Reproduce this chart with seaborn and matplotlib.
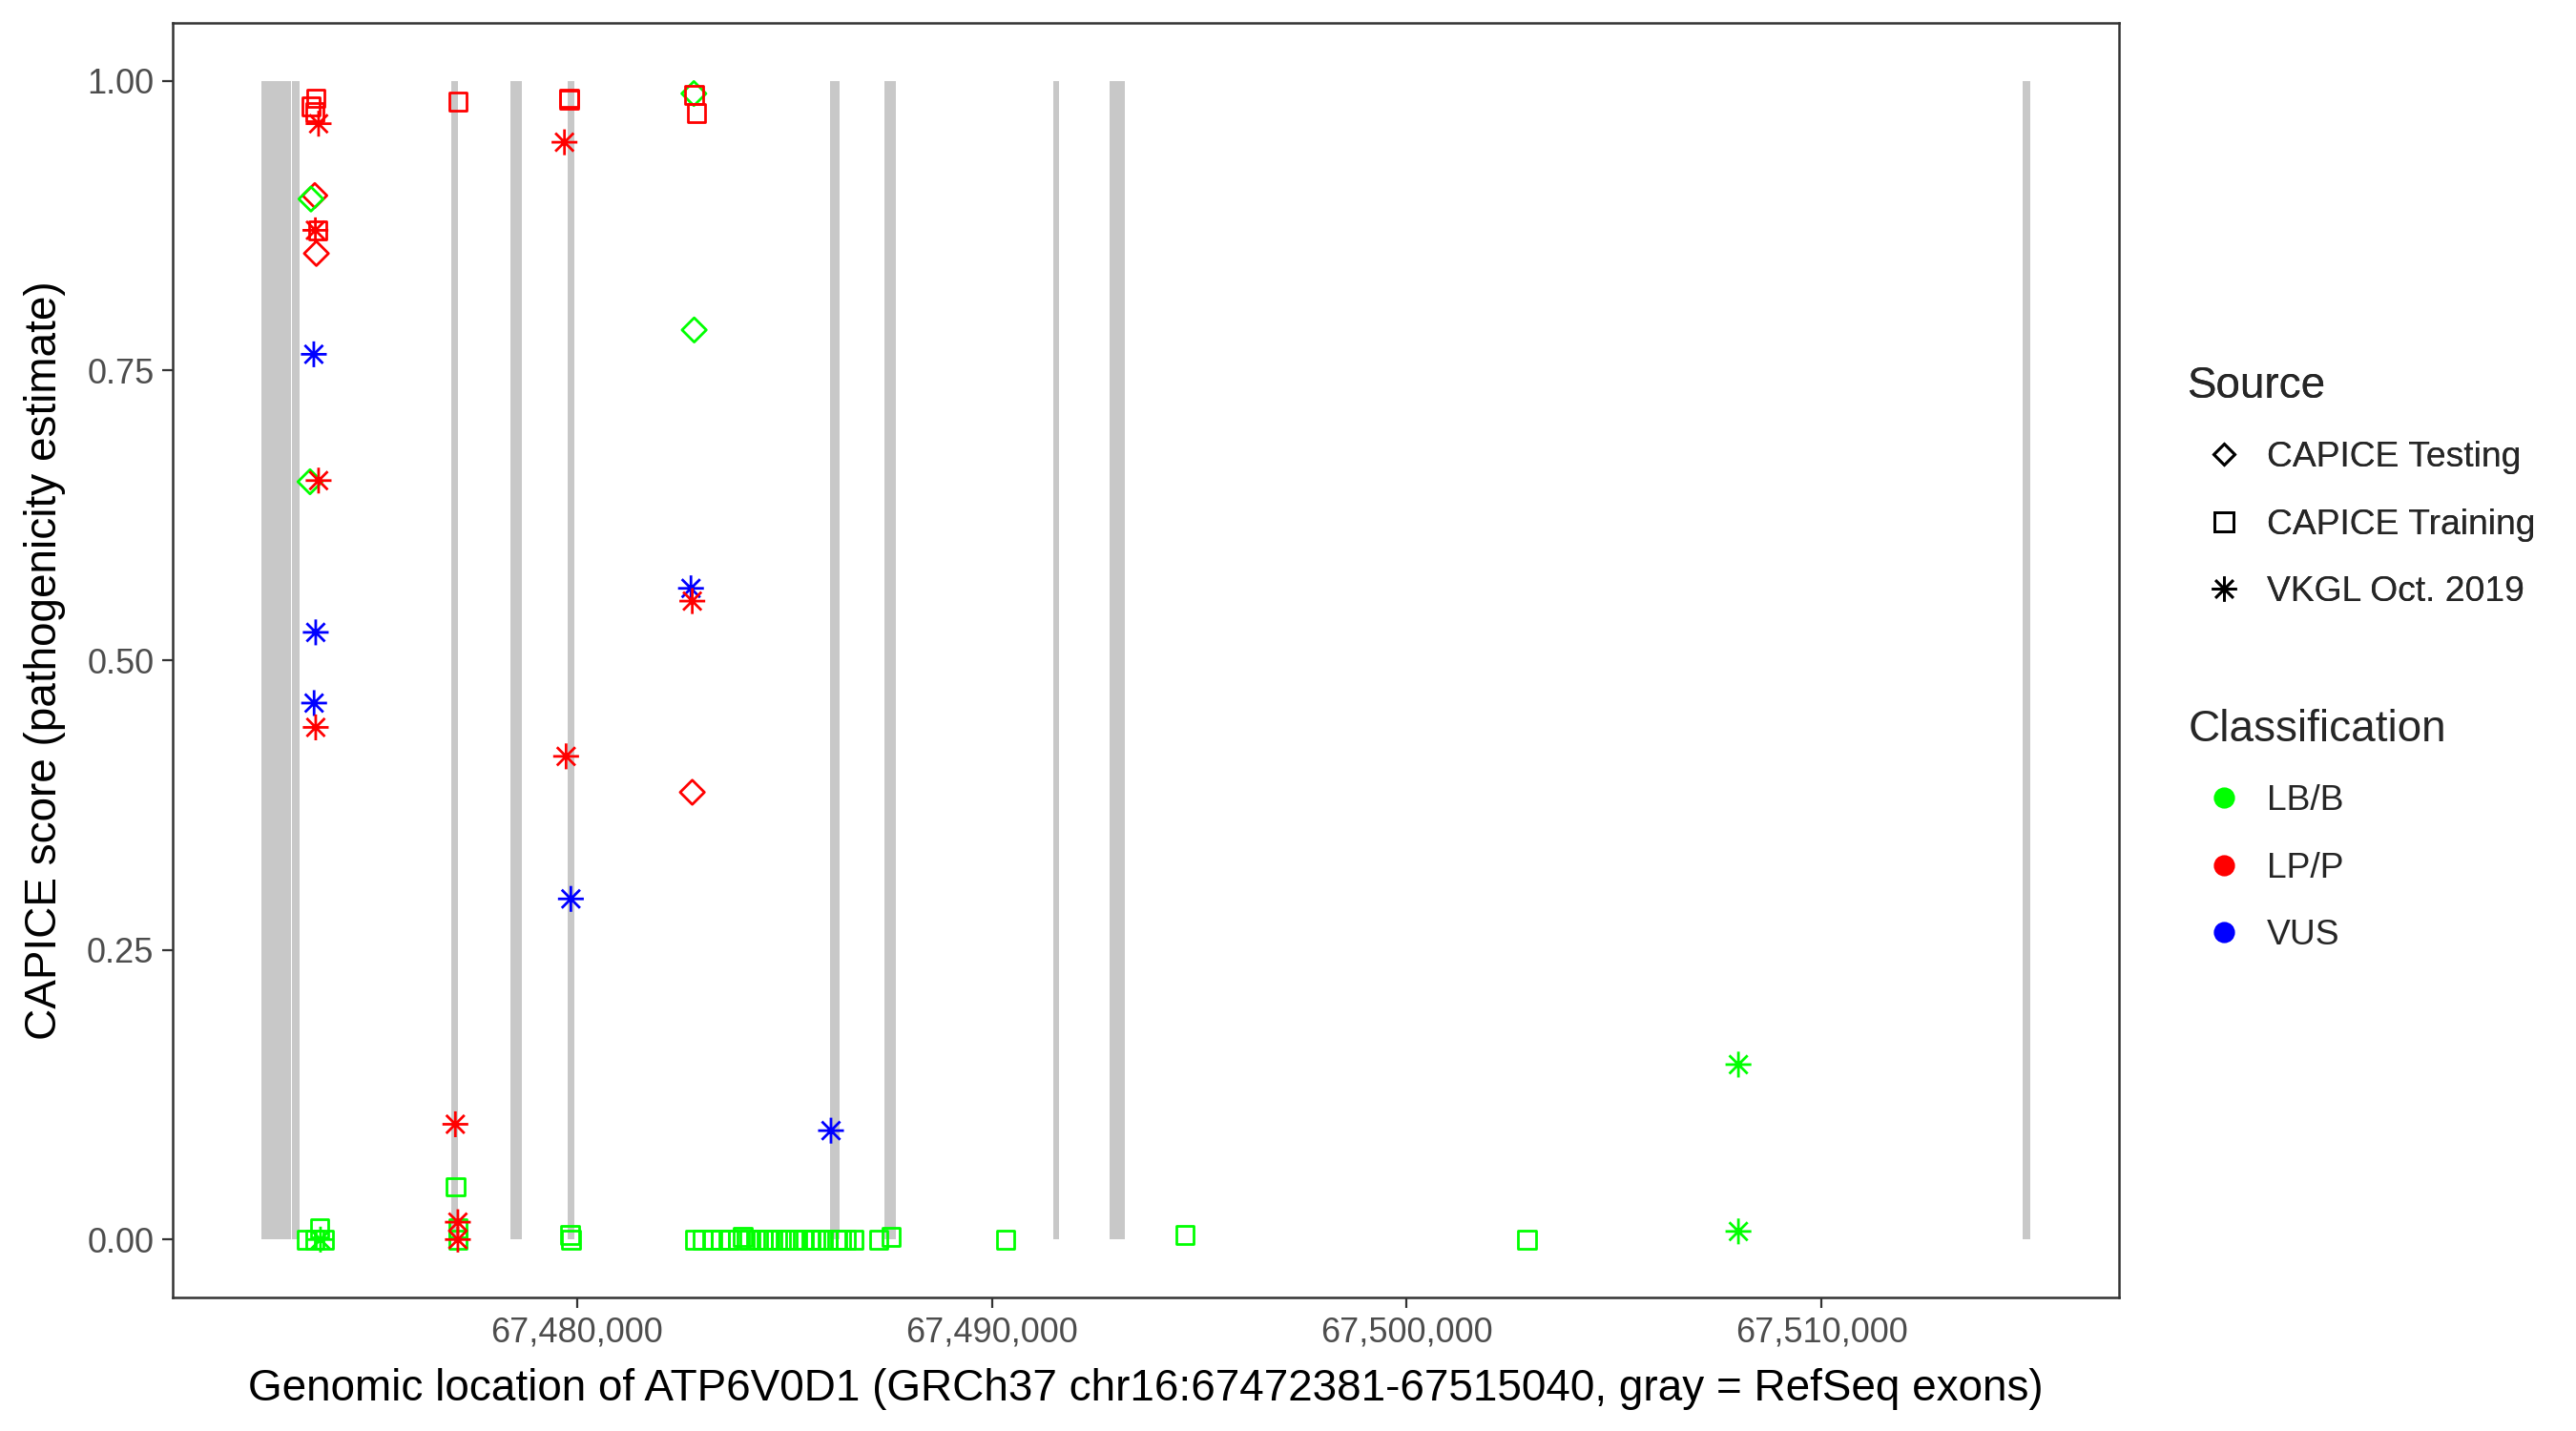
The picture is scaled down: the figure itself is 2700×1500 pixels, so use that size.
import matplotlib
matplotlib.use("Agg")
import matplotlib.pyplot as plt
from matplotlib.path import Path
from matplotlib.lines import Line2D
from matplotlib.ticker import FuncFormatter
import numpy as np
import pandas as pd
import seaborn as sns

# gene + exon coordinates (GRCh37 chr16)
gene_start = 67472381
gene_end = 67515040
exon_starts = [67472381, 67473124, 67476965, 67478391, 67479772, 67486098,
               67487409, 67491481, 67492838, 67514853]
exon_ends = [67473100, 67473308, 67477126, 67478668, 67479933, 67486328,
             67487685, 67491619, 67493206, 67515040]

# variants
pos = [67473699, 67473584, 67473676, 67473768, 67473676, 67473584, 67473691,
       67473745, 67473714, 67473653, 67473561, 67473768, 67473699, 67473660,
       67473699, 67473791, 67473469, 67473676, 67473906, 67473814,
       67477126, 67477065, 67477073, 67477126, 67477126, 67477126, 67477126,
       67479811, 67479800, 67479696, 67479735, 67479850, 67479834, 67479850,
       67482815, 67482815, 67482878, 67482823, 67482745, 67482777, 67482777,
       67486121,
       67482838, 67483031, 67483261, 67483452, 67483643, 67483873, 67483988,
       67484142, 67484356, 67484471, 67484602, 67484718, 67484908, 67485079,
       67485253, 67485447, 67485638, 67485737, 67485907, 67486045, 67486275,
       67486367, 67486482, 67486673, 67487271, 67487570,
       67490331, 67494655, 67502891, 67507998, 67507998]
score = [0.985, 0.978, 0.973, 0.963, 0.901, 0.898, 0.871,
         0.871, 0.851, 0.764, 0.654, 0.655, 0.524, 0.463,
         0.442, 0.010, 0.000, 0.000, 0.000, 0.000,
         0.982, 0.0995, 0.0456, 0.015, 0.010, 0.000, 0.000,
         0.985, 0.984, 0.947, 0.417, 0.294, 0.004, 0.000,
         0.988, 0.989, 0.972, 0.785, 0.562, 0.551, 0.386,
         0.094,
         0.000, 0.000, 0.000, 0.000, 0.000, 0.000, 0.002,
         0.000, 0.000, 0.000, 0.000, 0.000, 0.000, 0.000,
         0.000, 0.000, 0.000, 0.000, 0.000, 0.000, 0.000,
         0.000, 0.000, 0.000, 0.000, 0.002,
         0.000, 0.004, 0.000, 0.151, 0.007]
source = (["CAPICE Training"] * 3 + ["VKGL Oct. 2019"] + ["CAPICE Testing"] * 2
          + ["VKGL Oct. 2019", "CAPICE Training", "CAPICE Testing", "VKGL Oct. 2019",
             "CAPICE Testing"] + ["VKGL Oct. 2019"] * 4 + ["CAPICE Training"] * 4
          + ["VKGL Oct. 2019"]
          + ["CAPICE Training", "VKGL Oct. 2019", "CAPICE Training", "VKGL Oct. 2019",
             "CAPICE Training", "CAPICE Training", "VKGL Oct. 2019"]
          + ["CAPICE Training", "CAPICE Training"] + ["VKGL Oct. 2019"] * 3
          + ["CAPICE Training"] * 2
          + ["CAPICE Training", "CAPICE Testing", "CAPICE Training", "CAPICE Testing",
             "VKGL Oct. 2019", "VKGL Oct. 2019", "CAPICE Testing", "VKGL Oct. 2019"]
          + ["CAPICE Training"] * 26
          + ["CAPICE Training"] * 3 + ["VKGL Oct. 2019"] * 2)
classification = (["LP/P"] * 5 + ["LB/B"] + ["LP/P"] * 3 + ["VUS", "LB/B", "LP/P",
                   "VUS", "VUS", "LP/P"] + ["LB/B"] * 5
                  + ["LP/P", "LP/P", "LB/B", "LP/P", "LB/B", "LB/B", "LP/P"]
                  + ["LP/P"] * 4 + ["VUS"] + ["LB/B"] * 2
                  + ["LP/P", "LB/B", "LP/P", "LB/B", "VUS", "LP/P", "LP/P", "VUS"]
                  + ["LB/B"] * 26
                  + ["LB/B"] * 5)

df = pd.DataFrame({"pos": pos, "score": score, "Source": source,
                   "Classification": classification})

sources = ["CAPICE Testing", "CAPICE Training", "VKGL Oct. 2019"]
classes = ["LB/B", "LP/P", "VUS"]
pal = {"LB/B": "#00FF00", "LP/P": "#FF0000", "VUS": "#0000FF"}

# R-like asterisk (pch 8)
a = 0.7071
star = Path([(-1, 0), (1, 0), (0, -1), (0, 1), (-a, -a), (a, a), (-a, a), (a, -a)],
            [Path.MOVETO, Path.LINETO] * 4)
markers = {"CAPICE Testing": "D", "CAPICE Training": "s", "VKGL Oct. 2019": star}
msize = {"CAPICE Testing": 42, "CAPICE Training": 46, "VKGL Oct. 2019": 95}

sns.set_theme(style="white")
plt.rcParams["font.family"] = ["Liberation Sans", "DejaVu Sans"]

fig = plt.figure(figsize=(13.5, 7.5), dpi=200)
ax = fig.add_axes([0.067, 0.0933, 0.7556, 0.8907])

# exons as gray bars
ax.bar(exon_starts, [1] * len(exon_starts),
       width=np.array(exon_ends) - np.array(exon_starts),
       align="edge", color="#C8C8C8", linewidth=0, zorder=1)

for src in sources:
    sub = df[df["Source"] == src]
    sns.scatterplot(data=sub, x="pos", y="score", hue="Classification",
                    hue_order=classes, palette=pal, marker=markers[src],
                    s=msize[src], legend=False, ax=ax, zorder=3)
    coll = ax.collections[-1]
    fc = coll.get_facecolors()
    coll.set_edgecolors(fc)
    coll.set_facecolors("none")
    coll.set_linewidths(1.0)

span = gene_end - gene_start
ax.set_xlim(gene_start - 0.05 * span, gene_end + 0.05 * span)
ax.set_ylim(-0.05, 1.05)
ax.set_xticks([67480000, 67490000, 67500000, 67510000])
ax.set_yticks([0, 0.25, 0.5, 0.75, 1.0])
ax.xaxis.set_major_formatter(FuncFormatter(lambda v, p: f"{int(v):,}"))
ax.yaxis.set_major_formatter(FuncFormatter(lambda v, p: f"{v:.2f}"))
ax.tick_params(axis="both", which="major", length=4, width=0.8, color="#333333",
               labelcolor="#4D4D4D", labelsize=13, pad=3, bottom=True, left=True)
for sp in ax.spines.values():
    sp.set_color("#333333")
    sp.set_linewidth(0.9)

ax.set_xlabel("Genomic location of ATP6V0D1 (GRCh37 chr16:67472381-67515040, gray = RefSeq exons)",
              fontsize=16.5, color="black", labelpad=7)
ax.set_ylabel("CAPICE score (pathogenicity estimate)", fontsize=16.5, color="black",
              labelpad=8)

# legends, ggplot style
src_handles = [Line2D([], [], linestyle="none", marker=markers[s], markersize=7 if s != "VKGL Oct. 2019" else 9.5,
                      markerfacecolor="none", markeredgecolor="black", markeredgewidth=1.0)
               for s in sources]
src_handles[0].set_markersize(5.5)
cls_handles = [Line2D([], [], linestyle="none", marker="o", markersize=7,
                      markerfacecolor=pal[c], markeredgecolor=pal[c]) for c in classes]

leg1 = fig.legend(src_handles, sources, title="Source", loc="upper left",
                  bbox_to_anchor=(0.837, 0.767), frameon=False, fontsize=13.4,
                  title_fontsize=16.5, alignment="left", handlelength=2.0,
                  handletextpad=0.22, labelspacing=0.95)
fig.add_artist(leg1)
leg2 = fig.legend(cls_handles, classes, title="Classification", loc="upper left",
                  bbox_to_anchor=(0.837, 0.527), frameon=False, fontsize=13.4,
                  title_fontsize=16.5, alignment="left", handlelength=2.0,
                  handletextpad=0.22, labelspacing=0.95)

fig.savefig("out.png", dpi=200, facecolor="white")
